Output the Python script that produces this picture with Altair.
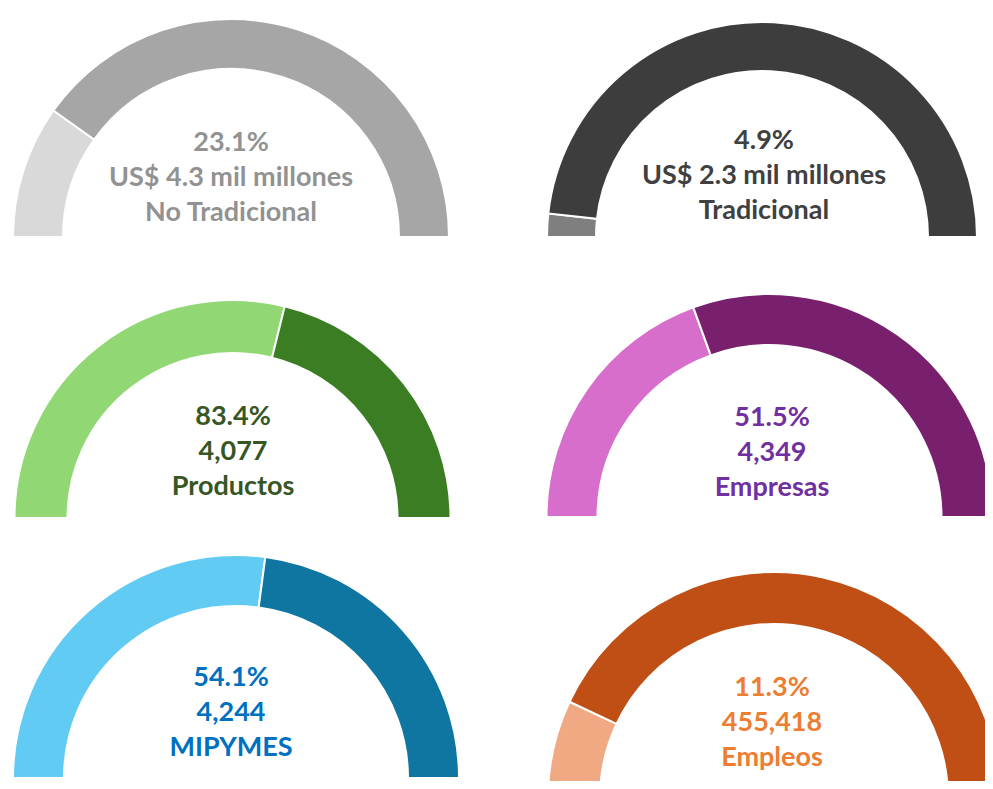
import altair as alt
import pandas as pd

# ---- data ----
pct_labels = ["23.1%", "4.9%", "83.4%", "51.5%", "54.1%", "11.3%"]
value_labels = ["US$ 4.3 mil millones", "US$ 2.3 mil millones", "4,077", "4,349", "4,244", "455,418"]
name_labels = ["No Tradicional", "Tradicional", "Productos", "Empresas", "MIPYMES", "Empleos"]
# share of each half-donut (percent of the half circle), light segment first
light_share = [19.7, 3.5, 57.7, 38.9, 54.2, 14.0]
dark_share = [80.3, 96.5, 42.3, 61.1, 45.8, 86.0]

# ---- styling ----
light_colors = ["#d9d9d9", "#7f7f7f", "#91d874", "#d86ecc", "#62cbf3", "#f1a983"]
dark_colors = ["#a6a6a6", "#3d3d3d", "#3b7d23", "#78206e", "#0e76a0", "#c04f15"]
text_colors = ["#929292", "#404040", "#375623", "#7030a0", "#0070c0", "#ed7d31"]

# ---- layout (pixel geometry of each half donut) ----
centers = [(223, 229), (754, 229), (224.5, 510), (761.5, 509), (228, 770), (766, 790)]
outer_r = [218, 215, 218, 223, 223, 226]
inner_r = [168, 166, 165, 172, 172, 174]
text_pos = [(223, 135), (756, 133), (225, 409), (764, 410), (223, 670), (764, 680)]

keys = []
key_colors = []
for i in range(6):
    keys += [f"d{i}a", f"d{i}b"]
    key_colors += [light_colors[i], dark_colors[i]]

theta_scale = alt.Scale(domain=[0, 100], range=[-3.141592653589793 / 2, 3.141592653589793 / 2])
color_scale = alt.Scale(domain=keys, range=key_colors)

layers = []
for i in range(6):
    df = pd.DataFrame({
        "key": [f"d{i}a", f"d{i}b"],
        "value": [light_share[i], dark_share[i]],
        "order": [0, 1],
    })
    cx, cy = centers[i]
    arc = alt.Chart(df).mark_arc(
        innerRadius=inner_r[i], outerRadius=outer_r[i], stroke="white", strokeWidth=2
    ).encode(
        theta=alt.Theta("value:Q", stack=True, scale=theta_scale),
        color=alt.Color("key:N", scale=color_scale, legend=None),
        order=alt.Order("order:Q"),
        x=alt.value(cx),
        y=alt.value(cy),
    )
    layers.append(arc)

    tdf = pd.DataFrame({"t": [pct_labels[i] + "\n" + value_labels[i] + "\n" + name_labels[i]]})
    tx, ty = text_pos[i]
    txt = alt.Chart(tdf).mark_text(
        font="Lato", fontWeight="bold", fontSize=27, color=text_colors[i],
        lineBreak="\n", lineHeight=35, align="center", baseline="middle",
    ).encode(text="t:N", x=alt.value(tx), y=alt.value(ty))
    layers.append(txt)

chart = alt.layer(*layers).properties(
    width=977, height=773,
    autosize=alt.AutoSizeParams(type="none"),
    padding=0,
).configure_view(stroke=None)

chart.save("out.html", embed_options={"renderer": "svg", "actions": False})
